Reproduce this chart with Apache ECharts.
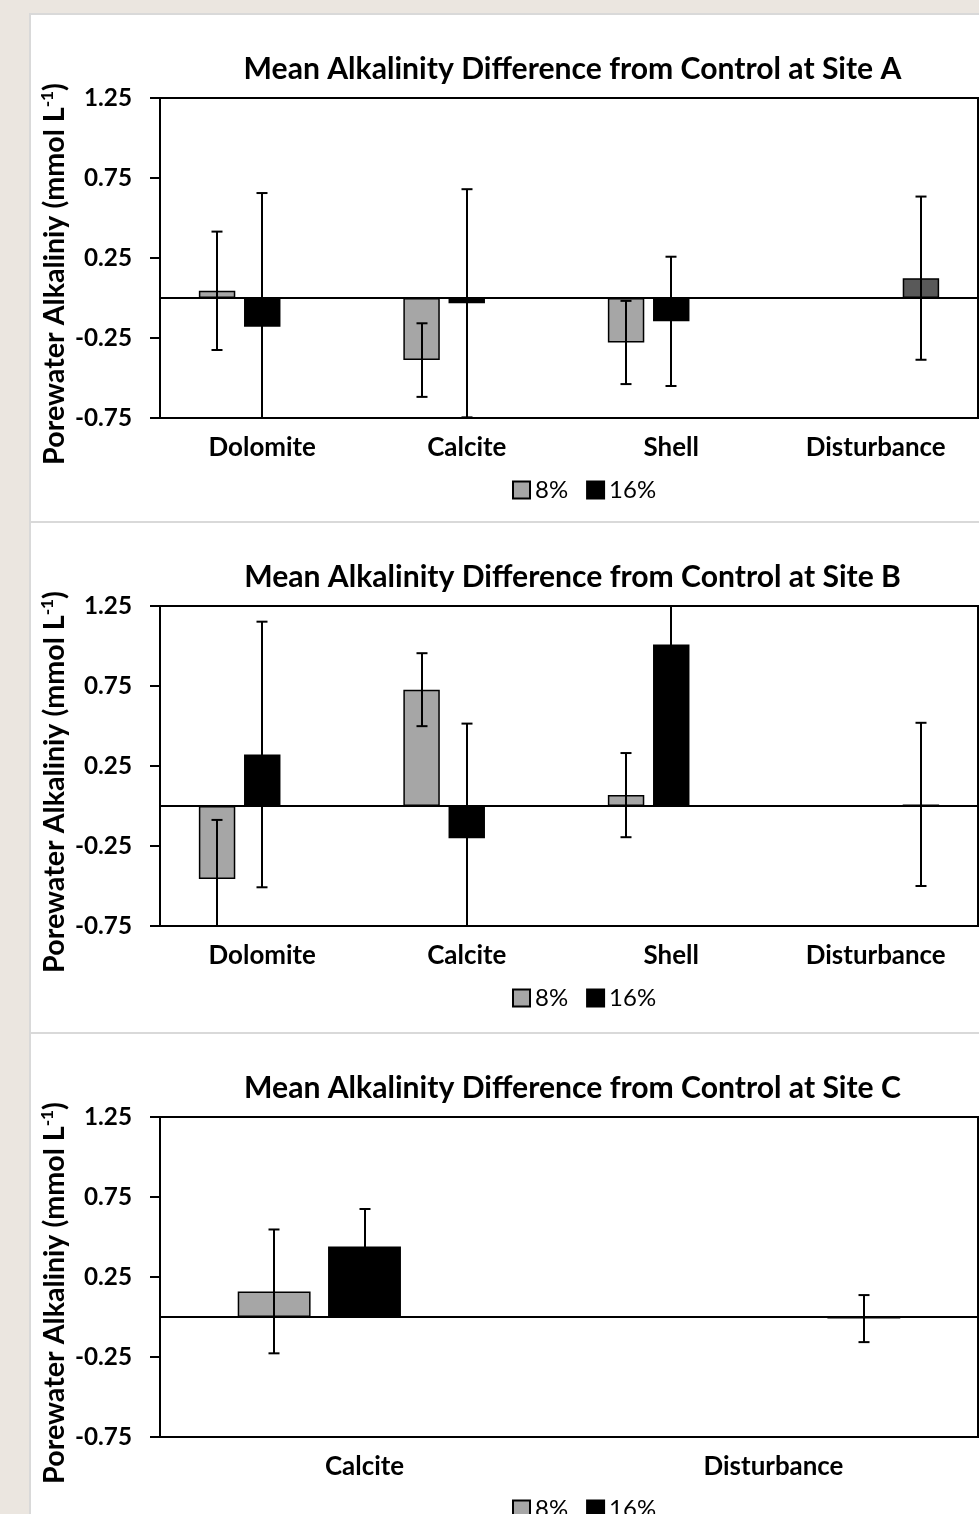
<!DOCTYPE html>
<html><head><meta charset="utf-8">
<script src="https://cdn.jsdelivr.net/npm/echarts@6/dist/echarts.min.js"></script>
<style>
html,body{margin:0;padding:0;background:#ebe6e0;width:979px;height:1514px;overflow:hidden;position:relative}
.panel{position:absolute;left:29px;width:980px;background:#fff;border:2px solid #d9d9d9;box-sizing:border-box}
.chart{position:absolute;left:0;width:979px}
</style></head><body>
<div class="panel" style="top:13px;height:510px"></div>
<div class="panel" style="top:521px;height:513px"></div>
<div class="panel" style="top:1032px;height:600px"></div>
<div id="cA" class="chart" style="top:14px;height:508px"></div>
<div id="cB" class="chart" style="top:522px;height:511px"></div>
<div id="cC" class="chart" style="top:1033px;height:481px"></div>
<script>
// ---- data ----
const yTicks = [-0.75, -0.25, 0.25, 0.75, 1.25];
const legendNames = ['8%', '16%'];
const yAxisTitle = 'Porewater Alkaliniy (mmol L';
const yAxisSup = '-1';

const titleA = 'Mean Alkalinity Difference from Control at Site A';
const catsA = ['Dolomite', 'Calcite', 'Shell', 'Disturbance'];
const a8 = [0.045, -0.388, -0.278, null];
const a8Err = [0.37, 0.23, 0.26, null];
const a16 = [-0.18, -0.033, -0.146, null];
const a16Err = [0.836, 0.713, 0.404, null];
const aDist = [null, null, null, 0.124];
const aDistErr = [null, null, null, 0.51];

const titleB = 'Mean Alkalinity Difference from Control at Site B';
const catsB = ['Dolomite', 'Calcite', 'Shell', 'Disturbance'];
const b8 = [-0.457, 0.727, 0.068, null];
const b8Err = [0.37, 0.228, 0.263, null];
const b16 = [0.322, -0.201, 1.009, null];
const b16Err = [0.83, 0.716, 0.45, null];
const bDist = [null, null, null, 0.01];
const bDistErr = [null, null, null, 0.51];

const titleC = 'Mean Alkalinity Difference from Control at Site C';
const catsC = ['Calcite', 'Disturbance'];
const c8 = [0.16, null];
const c8Err = [0.387, null];
const c16 = [0.44, null];
const c16Err = [0.235, null];
const cDist = [null, -0.01];
const cDistErr = [null, 0.147];

// ---- styling helpers ----
const FONT = 'Lato';
const ctx = document.createElement('canvas').getContext('2d');
function textW(t, size, weight) { ctx.font = weight + ' ' + size + 'px ' + FONT; return ctx.measureText(t).width; }
function fit(t, target, weight) { return target / textW(t, 100, weight) * 100; }
const titleSize = fit(titleA, 658, 'bold');
const tickSize = fit('-0.75', 57, 'bold');
const catSize = fit('Disturbance', 140, 'bold');
const legSize = fit('16%', 47, 'normal');
const nameSize = 382 / (textW(yAxisTitle + ')', 100, 'bold') + textW(yAxisSup, 60, 'bold')) * 100;

const N = 3, CAT_GAP = 0.38, BAR_GAP = 0.24;

function barSeries(name, data, color) {
  return {
    type: 'bar', name: name, data: data, z: 2,
    barGap: (BAR_GAP * 100) + '%', barCategoryGap: (CAT_GAP * 100) + '%',
    itemStyle: { color: color, borderColor: '#000', borderWidth: 1.5 },
    emphasis: { disabled: true }
  };
}
function errSeries(idx, vals, errs) {
  const data = [];
  vals.forEach(function (v, i) { if (v != null) data.push([i, v, errs[i]]); });
  return {
    type: 'custom', data: data, clip: true, z: 5, silent: true,
    encode: { x: 0, y: 1 },
    renderItem: function (params, api) {
      const i = api.value(0), v = api.value(1), e = api.value(2);
      const band = api.size([1, 0])[0];
      const w = band * (1 - CAT_GAP) / (N + (N - 1) * BAR_GAP);
      const dx = (idx - 1) * w * (1 + BAR_GAP);
      const top = api.coord([i, v + e]), bot = api.coord([i, v - e]);
      const x = Math.round(top[0] + dx), cap = 5.5;
      const style = { stroke: '#000', lineWidth: 2 };
      return { type: 'group', children: [
        { type: 'line', shape: { x1: x, y1: top[1], x2: x, y2: bot[1] }, style: style },
        { type: 'line', shape: { x1: x - cap, y1: top[1], x2: x + cap, y2: top[1] }, style: style },
        { type: 'line', shape: { x1: x - cap, y1: bot[1], x2: x + cap, y2: bot[1] }, style: style }
      ] };
    }
  };
}

function build(id, title, cats, s8, e8, s16, e16, sD, eD) {
  const chart = echarts.init(document.getElementById(id), null, { renderer: 'canvas' });
  const first = barSeries('8%', s8, '#a6a6a6');
  first.markLine = { silent: true, symbol: ['none', 'none'], label: { show: false },
    lineStyle: { color: '#000', width: 2, type: 'solid' }, data: [{ yAxis: 0 }] };
  chart.setOption({
    animation: false,
    backgroundColor: 'transparent',
    title: {
      text: title, left: 567.5 - textW(title, titleSize, 'bold') / 2, top: 35,
      textStyle: { fontFamily: FONT, fontWeight: 'bold', fontSize: titleSize, color: '#000' }
    },
    legend: {
      data: legendNames, left: 507, top: 459, itemWidth: 17, itemHeight: 17, itemGap: 18, icon: 'rect',
      textStyle: { fontFamily: FONT, fontSize: legSize, color: '#000' }, selectedMode: false
    },
    grid: { left: 160, top: 84, width: 818, height: 320, show: true, borderColor: '#000', borderWidth: 2, backgroundColor: 'transparent' },
    xAxis: {
      type: 'category', data: cats,
      axisLine: { onZero: false, lineStyle: { color: '#000', width: 2 } },
      axisTick: { show: false },
      axisLabel: { color: '#000', fontFamily: FONT, fontWeight: 'bold', fontSize: catSize, margin: 17 }
    },
    yAxis: {
      type: 'value', min: -0.75, max: 1.25,
      axisLine: { show: true, lineStyle: { color: '#000', width: 2 } },
      axisTick: { show: true, length: 10, customValues: yTicks, lineStyle: { color: '#000', width: 2 } },
      axisLabel: { customValues: yTicks, formatter: function (v) { return v.toFixed(2); },
        color: '#000', fontFamily: FONT, fontWeight: 'bold', fontSize: tickSize, margin: 28 },
      splitLine: { show: false }
    },
    graphic: [{
      type: 'text', x: 55, y: 260, rotation: Math.PI / 2, silent: true,
      style: {
        text: '{a|' + yAxisTitle + '}{s|' + yAxisSup + '}{a|)}',
        align: 'center', verticalAlign: 'middle', fill: '#000',
        rich: {
          a: { fontFamily: FONT, fontWeight: 'bold', fontSize: nameSize, fill: '#000' },
          s: { fontFamily: FONT, fontWeight: 'bold', fontSize: nameSize * 0.6, fill: '#000', verticalAlign: 'top', padding: [0, 0, nameSize * 0.5, 0] }
        }
      }
    }],
    series: [
      first,
      barSeries('16%', s16, '#000000'),
      barSeries('Disturbance', sD, '#595959'),
      errSeries(0, s8, e8),
      errSeries(1, s16, e16),
      errSeries(2, sD, eD)
    ]
  });
}
build('cA', titleA, catsA, a8, a8Err, a16, a16Err, aDist, aDistErr);
build('cB', titleB, catsB, b8, b8Err, b16, b16Err, bDist, bDistErr);
build('cC', titleC, catsC, c8, c8Err, c16, c16Err, cDist, cDistErr);
</script>
</body></html>
